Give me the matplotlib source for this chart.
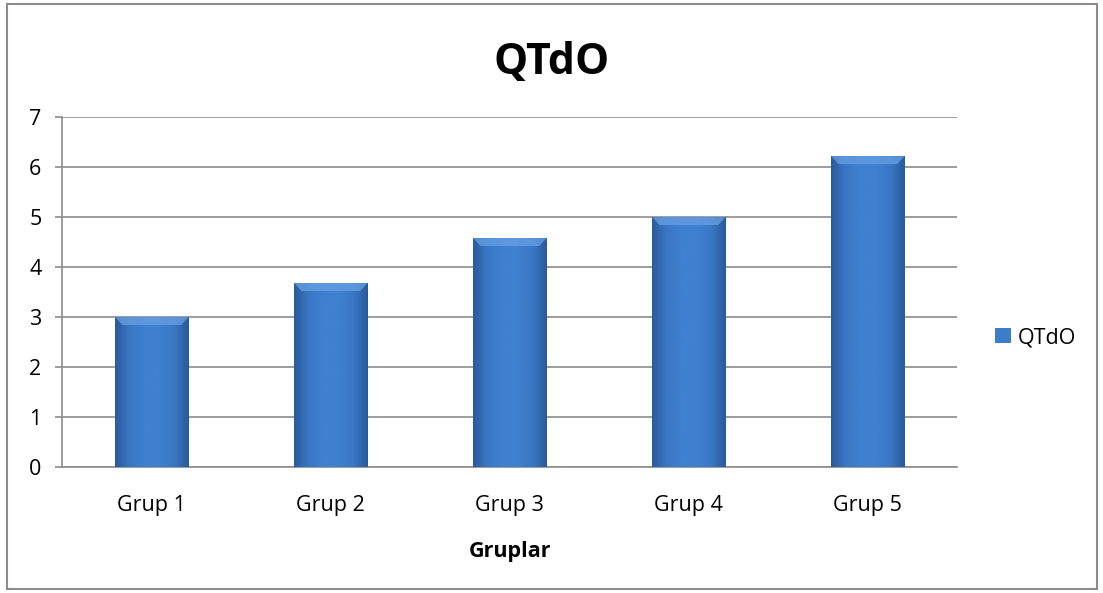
import numpy as np
import matplotlib.pyplot as plt
from matplotlib.patches import Rectangle, Polygon
from matplotlib.colors import LinearSegmentedColormap

groups = ["Grup 1", "Grup 2", "Grup 3", "Grup 4", "Grup 5"]
values = [3.0, 3.68, 4.58, 5.0, 6.22]
series_name = "QTdO"

plt.rcParams['font.family'] = ['Open Sans', 'DejaVu Sans']

fig = plt.figure(figsize=(11.03, 5.93), dpi=100)
ax = fig.add_axes([0.0565, 0.2125, 0.8115, 0.59])

x = np.arange(len(groups))
width = 0.41
bars = ax.bar(x, values, width=width, color="#3d7cc9", edgecolor="none",
              label=series_name, zorder=3)

# shaded fill for each bar, darker toward the sides
cmap = LinearSegmentedColormap.from_list(
    "bevel", ["#2a5a9a", "#3a78c6", "#3f80d0", "#3f80d0", "#3a78c6", "#2a5a9a"])
grad = np.linspace(0, 1, 256).reshape(1, -1)
for b in bars:
    x0, y0 = b.get_x(), b.get_y()
    w, h = b.get_width(), b.get_height()
    im = ax.imshow(grad, cmap=cmap, aspect="auto", extent=[x0, x0 + w, y0, y0 + h],
                   zorder=4, interpolation="bilinear")
    im.set_clip_path(b)
    # lighter bevel along the top edge
    dx, dy = w * 0.1, 0.16
    ax.add_patch(Polygon([(x0, y0 + h), (x0 + w, y0 + h), (x0 + w - dx, y0 + h - dy),
                          (x0 + dx, y0 + h - dy)], closed=True,
                         facecolor="#6aa3e6", edgecolor="none", alpha=0.7, zorder=5))

ax.set_xlim(-0.5, len(groups) - 0.5)
ax.set_ylim(0, 7)
ax.set_yticks(range(0, 8))
ax.set_xticks(x)
ax.set_xticklabels(groups)
ax.yaxis.grid(True, color="#8c8c8c", linewidth=1.2, zorder=0)
ax.set_axisbelow(True)

for side in ["top", "right"]:
    ax.spines[side].set_visible(False)
for side in ["left", "bottom"]:
    ax.spines[side].set_color("#8c8c8c")
    ax.spines[side].set_linewidth(1.2)

ax.tick_params(axis="y", length=5, color="#8c8c8c", width=1.2, labelsize=15.5, pad=10)
ax.tick_params(axis="x", length=0, labelsize=15.5, pad=20)

ax.set_xlabel("Gruplar", fontsize=15.5, fontweight="bold", labelpad=18)
fig.text(0.5, 0.895, "QTdO", ha="center", va="center", fontsize=31, fontweight="bold")

leg = ax.legend(loc="center left", bbox_to_anchor=(1.02, 0.37), frameon=False,
                fontsize=15.5, handlelength=0.75, handleheight=0.75, handletextpad=0.3)

fig.add_artist(Rectangle((0.0065, 0.006), 0.988, 0.988, transform=fig.transFigure,
                         fill=False, edgecolor="#8c8c8c", linewidth=1.5))

fig.savefig("out.png", dpi=100)
